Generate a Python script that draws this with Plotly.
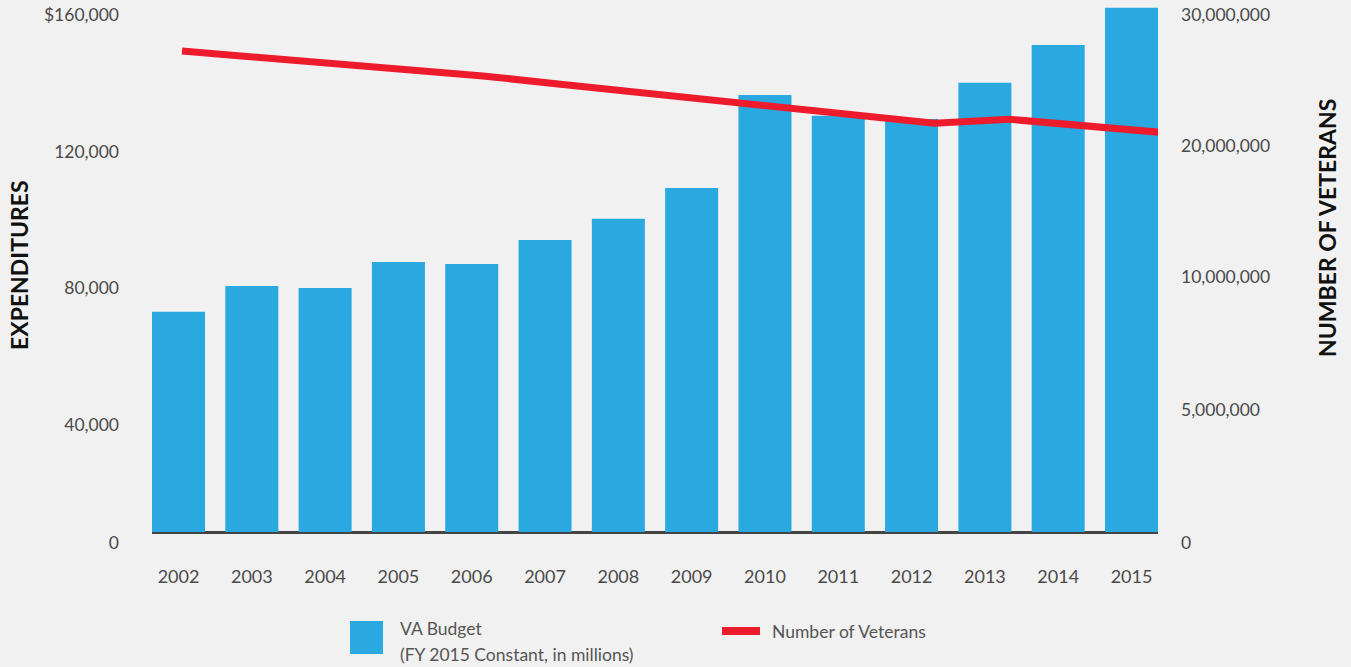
import plotly.graph_objects as go

# ---- data -------------------------------------------------------------
years = ["2002", "2003", "2004", "2005", "2006", "2007", "2008",
         "2009", "2010", "2011", "2012", "2013", "2014", "2015"]

# VA budget, FY 2015 constant dollars (millions)
va_budget = [67500, 75400, 74800, 82800, 82200, 89500, 96000,
             105500, 134000, 127600, 126600, 137700, 149300, 160700]

# Number of veterans
veterans = [26.28e6, 25.96e6, 25.63e6, 25.30e6, 24.92e6, 24.48e6, 24.04e6,
            23.63e6, 23.22e6, 22.79e6, 22.33e6, 22.55e6, 22.20e6, 21.84e6]

left_tick_text = ["0", "40,000", "80,000", "120,000", "$160,000"]
right_tick_text = ["0", "5,000,000", "10,000,000", "20,000,000", "30,000,000"]

# ---- styling ----------------------------------------------------------
W, H = 1351, 667
M_L, M_R, M_T, M_B = 152, 193, 0, 135
PLOT_W = W - M_L - M_R
PLOT_H = H - M_T - M_B

BG = "#f1f1f1"
BLUE = "#29a9e0"
RED = "#ee1b2d"
TICK_COLOR = "#4a4a4a"
FONT = "Lato, 'Open Sans', sans-serif"

LEFT_MAX = 163100
RIGHT_MAX = 29.07e6


def paper(x_px, y_px):
    """Convert page pixel coordinates into paper coordinates."""
    return (x_px - M_L) / PLOT_W, (M_T + PLOT_H - y_px) / PLOT_H


def axis_value(y_px, vmax):
    """Axis value found at a given page height (axis starts at the plot bottom)."""
    return (M_T + PLOT_H - y_px) / PLOT_H * vmax


# label heights down each side (tick labels hang 11px under their tick)
left_tick_heights = [532, 414, 277, 141, 4]
right_tick_heights = [532, 399, 266, 135, 4]

fig = go.Figure()

fig.add_trace(go.Bar(
    x=years, y=va_budget,
    marker=dict(color=BLUE, line=dict(width=0)),
    name="VA Budget",
    showlegend=False,
    xaxis="x", yaxis="y",
))

fig.add_trace(go.Scatter(
    x=[int(y) for y in years], y=veterans,
    mode="lines",
    line=dict(color=RED, width=7),
    name="Number of Veterans",
    showlegend=False,
    xaxis="x2", yaxis="y2",
))

x_tick_font = dict(family=FONT, size=18, color=TICK_COLOR)
y_tick_font = dict(family=FONT, size=17.5, color=TICK_COLOR)

fig.update_layout(
    width=W, height=H,
    margin=dict(l=M_L, r=M_R, t=M_T, b=M_B, pad=0),
    paper_bgcolor=BG, plot_bgcolor=BG,
    bargap=0.277,
    xaxis=dict(
        type="category",
        range=[-0.3615, 13.3615],
        showgrid=False, zeroline=False, showline=False,
        ticks="", tickfont=x_tick_font,
        ticklabelstandoff=32,
    ),
    xaxis2=dict(
        overlaying="x", anchor="y2",
        range=[2001.601, 2014.973],
        visible=False,
    ),
    yaxis=dict(
        range=[0, LEFT_MAX],
        showgrid=False, showline=False,
        zeroline=True, zerolinecolor="#444444", zerolinewidth=2.5,
        ticks="", tickfont=y_tick_font,
        tickvals=[axis_value(h, LEFT_MAX) for h in left_tick_heights],
        ticktext=left_tick_text,
        ticklabelshift=11,
        ticklabelstandoff=32,
    ),
    yaxis2=dict(
        overlaying="y", side="right", anchor="x2",
        range=[0, RIGHT_MAX],
        showgrid=False, showline=False, zeroline=False,
        ticks="", tickfont=y_tick_font,
        tickvals=[axis_value(h, RIGHT_MAX) for h in right_tick_heights],
        ticktext=right_tick_text,
        ticklabelshift=11,
        ticklabelstandoff=22,
    ),
)

# ---- axis titles ------------------------------------------------------
title_font = dict(family=FONT, size=23, color="#111111", weight="bold")
ax, ay = paper(19, 265)
fig.add_annotation(x=ax, y=ay, xref="paper", yref="paper", text="EXPENDITURES",
                   textangle=-90, showarrow=False, font=title_font,
                   xanchor="center", yanchor="middle")
ax, ay = paper(1327, 228)
fig.add_annotation(x=ax, y=ay, xref="paper", yref="paper", text="NUMBER OF VETERANS",
                   textangle=-90, showarrow=False, font=title_font,
                   xanchor="center", yanchor="middle")

# ---- legend -----------------------------------------------------------
legend_font = dict(family=FONT, size=17.5, color="#555555")
x0, y0 = paper(350, 621)
x1, y1 = paper(383, 654)
fig.add_shape(type="rect", xref="paper", yref="paper", x0=x0, y0=y0, x1=x1, y1=y1,
              fillcolor=BLUE, line=dict(width=0))
lx, ly = paper(398, 628)
fig.add_annotation(x=lx, y=ly, xref="paper", yref="paper", text="VA Budget",
                   showarrow=False, font=legend_font, xanchor="left", yanchor="middle")
lx, ly = paper(398, 654)
fig.add_annotation(x=lx, y=ly, xref="paper", yref="paper",
                   text="(FY 2015 Constant, in millions)",
                   showarrow=False, font=legend_font, xanchor="left", yanchor="middle")

x0, y0 = paper(722, 631)
x1, y1 = paper(760, 631)
fig.add_shape(type="line", xref="paper", yref="paper", x0=x0, y0=y0, x1=x1, y1=y1,
              line=dict(color=RED, width=8))
lx, ly = paper(770, 631)
fig.add_annotation(x=lx, y=ly, xref="paper", yref="paper", text="Number of Veterans",
                   showarrow=False, font=legend_font, xanchor="left", yanchor="middle")

fig.write_html("out.html")
